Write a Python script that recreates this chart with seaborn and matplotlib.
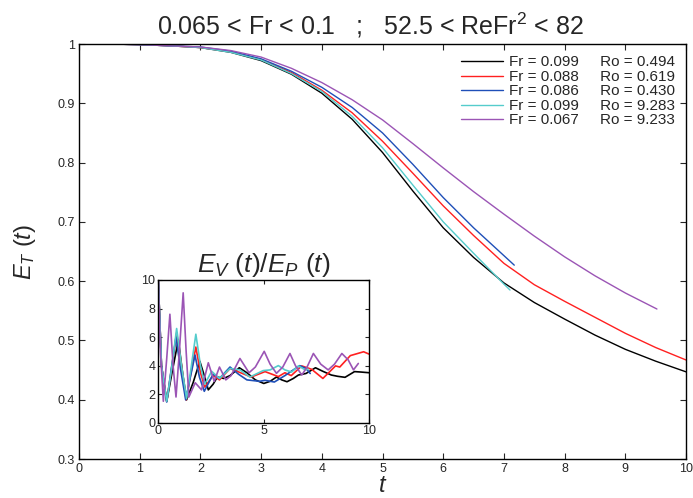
import numpy as np
import pandas as pd
import matplotlib
matplotlib.use("Agg")
import matplotlib.pyplot as plt
import seaborn as sns

# ---------------- data ----------------
labels = ["Fr = 0.099     Ro = 0.494",
          "Fr = 0.088     Ro = 0.619",
          "Fr = 0.086     Ro = 0.430",
          "Fr = 0.099     Ro = 9.283",
          "Fr = 0.067     Ro = 9.233"]
colors = ["#000000", "#ff2020", "#1f4fb8", "#55cccc", "#9b55b5"]

t_full = [0, 0.5, 1, 1.5, 2, 2.5, 3, 3.5, 4, 4.5, 5, 5.5, 6, 6.5, 7, 7.5, 8, 8.5, 9, 9.5, 10]
black_E = [1.000, 1.000, 0.999, 0.997, 0.994, 0.986, 0.972, 0.949, 0.917, 0.873, 0.817, 0.752,
           0.690, 0.640, 0.597, 0.564, 0.536, 0.509, 0.485, 0.465, 0.447]
red_E = [1.000, 1.000, 0.999, 0.997, 0.994, 0.987, 0.974, 0.952, 0.922, 0.884, 0.836, 0.782,
         0.727, 0.677, 0.630, 0.594, 0.566, 0.539, 0.512, 0.488, 0.467]
t_blue = [0, 0.5, 1, 1.5, 2, 2.5, 3, 3.5, 4, 4.5, 5, 5.5, 6, 6.5, 7, 7.17]
blue_E = [1.000, 1.000, 0.999, 0.997, 0.995, 0.988, 0.975, 0.954, 0.927, 0.893, 0.850, 0.797,
          0.741, 0.690, 0.643, 0.627]
t_cyan = [0, 0.5, 1, 1.5, 2, 2.5, 3, 3.5, 4, 4.5, 5, 5.5, 6, 6.5, 7, 7.1]
cyan_E = [1.000, 1.000, 0.999, 0.997, 0.994, 0.986, 0.973, 0.950, 0.920, 0.878, 0.825, 0.762,
          0.700, 0.647, 0.595, 0.585]
t_purple = [0, 0.5, 1, 1.5, 2, 2.5, 3, 3.5, 4, 4.5, 5, 5.5, 6, 6.5, 7, 7.5, 8, 8.5, 9, 9.52]
purple_E = [1.000, 1.000, 0.999, 0.997, 0.995, 0.989, 0.978, 0.959, 0.935, 0.906, 0.872, 0.832,
            0.791, 0.751, 0.713, 0.676, 0.641, 0.609, 0.580, 0.553]

# inset: E_V/E_P
ib_t = [0, 0.15, 0.4, 0.65, 0.95, 1.15, 1.34, 1.65, 1.97, 2.2, 2.37, 2.6, 2.8, 3.1, 3.4, 3.84,
        4.2, 4.6, 5.0, 5.3, 5.6, 5.85, 6.1, 6.4, 6.64, 7.0, 7.45, 7.8, 8.2, 8.5, 8.85, 9.3, 9.6, 10.0]
ib_v = [10, 4.0, 1.5, 3.5, 5.8, 3.5, 1.6, 2.8, 4.3, 3.2, 2.3, 2.7, 3.2, 3.1, 3.3, 3.85,
        3.5, 3.0, 2.75, 2.9, 3.2, 3.0, 2.87, 3.1, 3.34, 3.45, 3.85, 3.6, 3.34, 3.25, 3.18, 3.58, 3.55, 3.5]
ir_t = [0, 0.15, 0.4, 0.65, 0.87, 1.1, 1.32, 1.55, 1.78, 2.0, 2.2, 2.6, 2.9, 3.4, 3.9, 4.4,
        5.06, 5.69, 6.0, 6.3, 6.8, 7.27, 7.8, 8.4, 8.6, 9.1, 9.73, 10.0]
ir_v = [10, 4.0, 1.5, 4.0, 6.3, 4.0, 1.6, 3.5, 5.3, 3.5, 2.5, 3.3, 3.0, 3.8, 3.5, 3.2,
        3.58, 3.23, 3.5, 3.3, 3.98, 3.74, 3.1, 3.98, 3.9, 4.7, 4.97, 4.8]
iu_t = [0, 0.15, 0.4, 0.62, 0.84, 1.05, 1.3, 1.52, 1.74, 1.95, 2.18, 2.6, 2.9, 3.4, 3.8, 4.2,
        4.8, 5.06, 5.5, 6.0, 6.4, 6.7, 7.0, 7.2]
iu_v = [10, 4.0, 1.45, 3.8, 6.0, 3.8, 1.6, 3.2, 4.74, 3.2, 2.2, 3.4, 3.1, 3.9, 3.4, 3.0,
        2.9, 2.97, 2.85, 3.3, 3.7, 4.0, 3.8, 3.45]
ic_t = [0, 0.15, 0.4, 0.65, 0.87, 1.1, 1.34, 1.55, 1.78, 2.0, 2.2, 2.53, 2.9, 3.4, 3.87, 4.34,
        4.97, 5.3, 5.69, 6.0, 6.32, 6.64, 6.96, 7.1]
ic_v = [10, 4.0, 1.5, 4.0, 6.6, 4.0, 1.7, 3.8, 6.2, 4.0, 2.7, 3.6, 3.1, 3.8, 3.7, 3.2,
        3.65, 3.7, 4.0, 3.7, 3.55, 3.98, 3.7, 3.75]
ip_t = [0, 0.1, 0.24, 0.4, 0.55, 0.7, 0.84, 1.0, 1.18, 1.32, 1.45, 1.75, 2.05, 2.37, 2.65, 2.9,
        3.2, 3.45, 3.87, 4.3, 4.6, 5.02, 5.3, 5.6, 5.9, 6.24, 6.5, 6.8, 7.05, 7.35, 7.7, 8.05,
        8.35, 8.7, 9.0, 9.25, 9.48]
ip_v = [10, 5.0, 1.5, 4.5, 7.6, 4.0, 1.8, 5.0, 9.1, 5.0, 1.8, 2.8, 2.3, 4.2, 2.9, 3.9,
        3.0, 3.3, 4.5, 3.5, 3.9, 5.0, 4.1, 3.46, 3.9, 4.85, 4.0, 3.34, 3.9, 4.85, 4.1, 3.7,
        4.1, 4.85, 4.4, 3.7, 4.15]

main_series = [(t_full, black_E), (t_full, red_E), (t_blue, blue_E), (t_cyan, cyan_E), (t_purple, purple_E)]
inset_series = [(ib_t, ib_v), (ir_t, ir_v), (iu_t, iu_v), (ic_t, ic_v), (ip_t, ip_v)]

main_df = pd.concat([pd.DataFrame({"t": t, "E": e, "label": lab})
                     for (t, e), lab in zip(main_series, labels)], ignore_index=True)
inset_df = pd.concat([pd.DataFrame({"t": t, "R": v, "label": lab})
                      for (t, v), lab in zip(inset_series, labels)], ignore_index=True)
palette = dict(zip(labels, colors))

# ---------------- style ----------------
sns.set_style("ticks")
plt.rcParams['font.family'] = ['Liberation Sans', 'DejaVu Sans']
plt.rcParams['mathtext.fontset'] = 'custom'
plt.rcParams['mathtext.rm'] = 'Liberation Sans'
plt.rcParams['mathtext.it'] = 'Liberation Sans:italic'
plt.rcParams['axes.linewidth'] = 1.0

fig = plt.figure(figsize=(6.93, 4.98), dpi=100)
ax = fig.add_axes([0.114, 0.0783, 0.876, 0.8333])

sns.lineplot(data=main_df, x="t", y="E", hue="label", palette=palette, ax=ax,
             sort=False, estimator=None, linewidth=1.0)
ax.set_xlim(0, 10)
ax.set_ylim(0.3, 1.0)
ax.set_xticks(np.arange(0, 11, 1))
ax.set_xticklabels([str(i) for i in range(11)])
yt = [0.3, 0.4, 0.5, 0.6, 0.7, 0.8, 0.9, 1.0]
ax.set_yticks(yt)
ax.set_yticklabels(["0.3", "0.4", "0.5", "0.6", "0.7", "0.8", "0.9", "1"])
ax.tick_params(direction='in', length=4, width=0.8, top=True, right=True, labelsize=9, pad=3)
for s in ax.spines.values():
    s.set_visible(True)
    s.set_color('black')
ax.set_xlabel("$t$", fontsize=17, labelpad=0)
ax.set_ylabel("$E_T\\,\\,(t)$", fontsize=17, labelpad=14)
ax.set_title("0.065 < Fr < 0.1   ;   52.5 < ReFr$^2$ < 82", fontsize=18, pad=7, x=0.48)

leg = ax.legend(loc='upper right', bbox_to_anchor=(1.0, 1.0), frameon=False, fontsize=11,
                handlelength=2.7, handletextpad=0.4, labelspacing=0.03, borderaxespad=0.45,
                borderpad=0.3)
for line in leg.get_lines():
    line.set_linewidth(1.0)

# inset
ax2 = fig.add_axes([0.2284, 0.1512, 0.3045, 0.2866])
sns.lineplot(data=inset_df, x="t", y="R", hue="label", palette=palette, ax=ax2,
             sort=False, estimator=None, linewidth=1.2, legend=False)
ax2.set_xlim(0, 10)
ax2.set_ylim(0, 10)
ax2.set_xticks([0, 5, 10])
ax2.set_yticks([0, 2, 4, 6, 8, 10])
ax2.tick_params(direction='in', length=3, width=0.8, top=True, right=True, labelsize=9, pad=2)
for s in ax2.spines.values():
    s.set_visible(True)
    s.set_color('black')
ax2.set_xlabel("")
ax2.set_ylabel("")
ax2.set_title("$E_V\\,\\,(t)/E_P\\,\\,(t)$", fontsize=19, pad=6)

fig.savefig("out.png", dpi=100)
